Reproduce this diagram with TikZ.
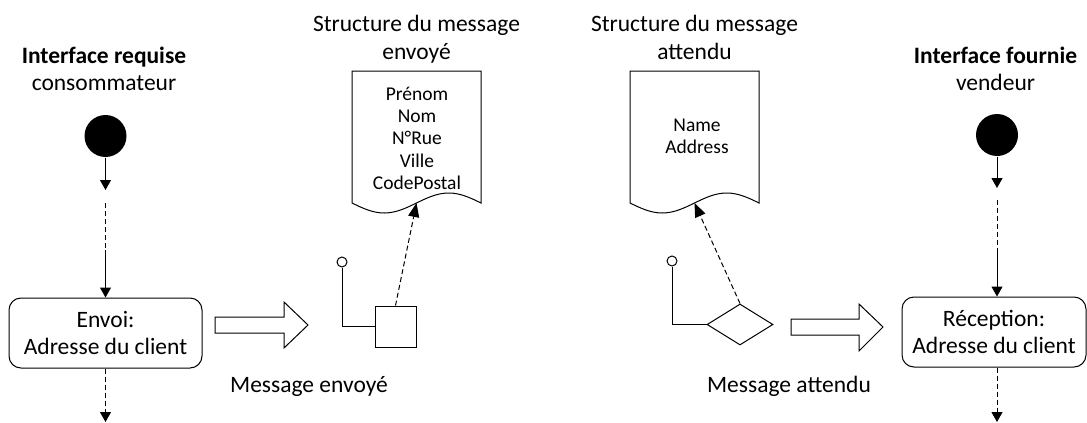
\documentclass[tikz,border=0pt]{standalone}
\usepackage{fontspec}
\setmainfont{Carlito}
\usetikzlibrary{arrows.meta,shapes.geometric}
\begin{document}
\begin{tikzpicture}[x=1pt,y=-1pt,line width=1pt,
  every node/.style={inner sep=0pt,font=\fontsize{23.5}{27}\selectfont},
  lbl/.style={anchor=base,align=center},
  doctext/.style={anchor=base,font=\fontsize{19.5}{22}\selectfont},
  action/.style={draw,rounded corners=12pt,align=center},
  initial/.style={circle,fill=black,minimum size=42pt},
  port/.style={circle,draw,fill=white,minimum size=10pt},
  pinbox/.style={draw,minimum size=41pt},
  pindiamond/.style={diamond,draw,minimum width=66pt,minimum height=41pt},
  flow/.style={-{Triangle[length=10pt,width=11pt]}},
  gap/.style={dash pattern=on 5pt off 3pt},
  note/.style={-{Triangle[length=14pt,width=11pt]},dash pattern=on 5pt off 3pt},
  block/.style={draw,fill=white,line join=miter}]

\useasboundingbox (0,0) rectangle (1087,423);

% ---- consumer side: required interface ----
\node[lbl] (reqT) at (104,63) {\textbf{Interface requise}};
\node[lbl] (reqS) at (104,90) {consommateur};
\node[initial] (reqI) at (105.5,136) {};
\coordinate (reqA) at (105.5,190);
\coordinate (reqB) at (105.5,203);
\coordinate (reqC) at (105.5,250);
\node[action,minimum width=193pt,minimum height=70pt] (envoi) at (105.5,333)
  {Envoi:\\Adresse du client};
\coordinate (reqD) at (105.5,422);
\draw[flow] (reqI) -- (reqA);
\draw[gap] (reqB) -- (reqC);
\draw[flow] (reqC) -- (envoi.north);
\draw[gap,-{Triangle[length=10pt,width=11pt]}] (envoi.south) -- (reqD);

% block arrow towards the sent message
\draw[block] (215,317) -- (284,317) -- (284,302) -- (308,325) -- (284,348)
  -- (284,333) -- (215,333) -- cycle;

% ---- sent message ----
\node[lbl] (sentT1) at (416.5,31) {Structure du message};
\node[lbl] (sentT2) at (416.5,59) {envoyé};
\draw (352,203) sin (384.25,213) cos (416.5,203) sin (448.75,193) cos (481,203)
  -- (481,71) -- (352,71) -- cycle;
\coordinate (sentW) at (416.5,203);
\node[doctext] (s1) at (417,100) {Prénom};
\node[doctext] (s2) at (417,122) {Nom};
\node[doctext] (s3) at (417,144.5) {N°Rue};
\node[doctext] (s4) at (417,167) {Ville};
\node[doctext] (s5) at (417,189) {CodePostal};

\node[pinbox] (sendpin) at (395.5,326.5) {};
\node[port] (sendport) at (342,262) {};
\draw (sendpin.west) -| (sendport.south);
\draw[note] (sendpin.north) -- (sentW);
\node[lbl] (sendL) at (309,392) {Message envoyé};

% ---- expected message ----
\node[lbl] (expT1) at (694.5,31) {Structure du message};
\node[lbl] (expT2) at (694.5,59) {attendu};
\draw (630,203) sin (662.25,213) cos (694.5,203) sin (726.75,193) cos (759,203)
  -- (759,71) -- (630,71) -- cycle;
\coordinate (expW) at (694.5,203);
\node[doctext] (e1) at (697,131) {Name};
\node[doctext] (e2) at (697,153) {Address};

\node[pindiamond] (recvpin) at (740,324.5) {};
\node[port] (recvport) at (672,261) {};
\draw (recvpin.west) -| (recvport.south);
\draw[note] (recvpin.north) -- (expW);
\node[lbl] (recvL) at (789,392) {Message attendu};

% block arrow towards the receiving action
\draw[block] (791,319) -- (859,319) -- (859,304) -- (883,327) -- (859,351)
  -- (859,335) -- (791,335) -- cycle;

% ---- vendor side: provided interface ----
\node[lbl] (proT) at (995.5,63) {\textbf{Interface fournie}};
\node[lbl] (proS) at (995.5,90) {vendeur};
\node[initial] (proI) at (997,135) {};
\coordinate (proA) at (997,188);
\coordinate (proB) at (997,200);
\coordinate (proC) at (997,250);
\node[action,minimum width=184pt,minimum height=70pt] (recep) at (994,332)
  {Réception:\\Adresse du client};
\coordinate (proD) at (997,422);
\draw[flow] (proI) -- (proA);
\draw[gap] (proB) -- (proC);
\draw[flow] (proC) -- (proC |- recep.north);
\draw[gap,-{Triangle[length=10pt,width=11pt]}] (proC |- recep.south) -- (proD);
\end{tikzpicture}
\end{document}
